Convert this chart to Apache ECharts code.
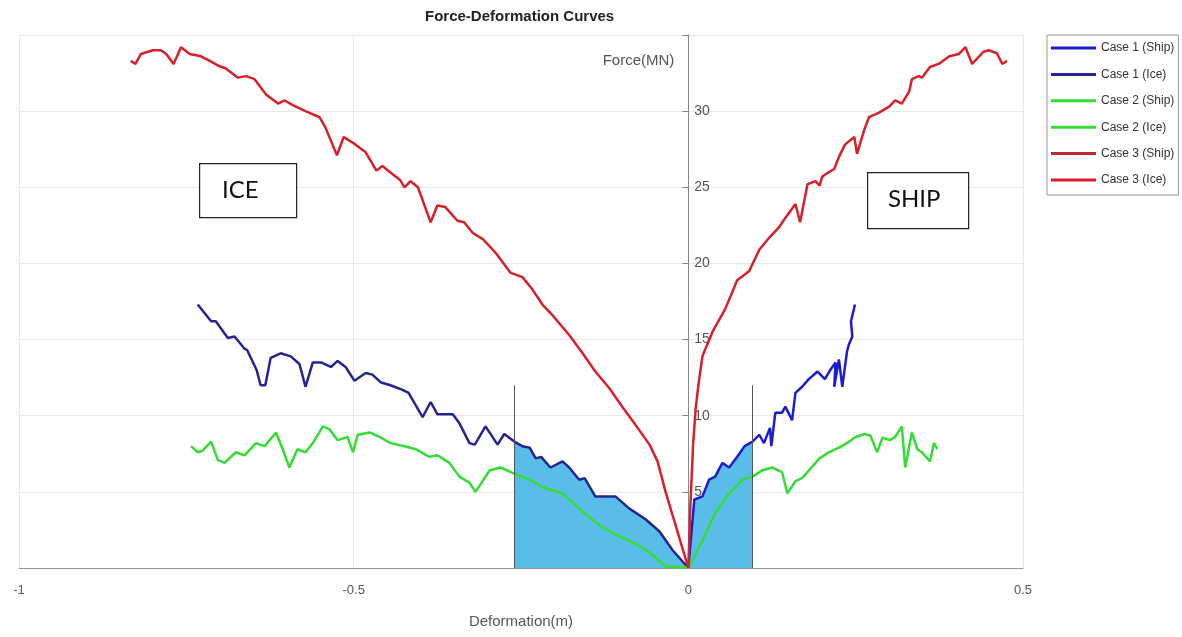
<!DOCTYPE html>
<html>
<head>
<meta charset="utf-8">
<script src="https://cdn.jsdelivr.net/npm/echarts@6/dist/echarts.min.js"></script>
<style>
  html, body { margin: 0; padding: 0; background: #fff; }
  #chart { width: 1182px; height: 637px; }
</style>
</head>
<body>
<div id="chart"></div>
<script>
// [deformation (m), force (MN)]
var case1Ship = [[0,0],[0.009,4.5],[0.021,4.7],[0.031,5.8],[0.04,6.0],[0.051,6.9],[0.061,6.6],[0.073,7.3],[0.084,8.0],[0.096,8.3],
  [0.106,8.75],[0.113,8.2],[0.122,9.2],[0.124,8.0],[0.13,10.2],[0.14,10.2],[0.145,10.6],[0.155,9.7],[0.16,11.5],[0.17,11.9],
  [0.18,12.4],[0.193,12.9],[0.204,12.4],[0.212,13.0],[0.22,13.5],[0.218,11.9],[0.225,13.7],[0.23,11.9],[0.237,14.2],[0.24,14.7],
  [0.245,15.2],[0.243,16.2],[0.249,17.3]];
var case1Ice = [[-0.733,17.3],[-0.713,16.2],[-0.706,16.2],[-0.688,15.1],[-0.678,15.2],[-0.663,14.4],[-0.659,14.3],[-0.645,13.0],
  [-0.639,12.0],[-0.632,12.0],[-0.624,13.8],[-0.609,14.1],[-0.594,13.9],[-0.581,13.4],[-0.572,11.9],[-0.561,13.5],[-0.549,13.5],
  [-0.534,13.2],[-0.524,13.6],[-0.512,13.2],[-0.499,12.3],[-0.482,12.8],[-0.472,12.7],[-0.46,12.2],[-0.445,12.0],[-0.427,11.7],
  [-0.418,11.5],[-0.397,9.9],[-0.385,10.9],[-0.375,10.1],[-0.352,10.1],[-0.342,9.5],[-0.327,8.2],[-0.319,8.1],[-0.303,9.3],
  [-0.285,8.1],[-0.275,8.8],[-0.26,8.3],[-0.248,8.0],[-0.237,7.9],[-0.228,7.2],[-0.22,7.3],[-0.206,6.6],[-0.188,7.0],[-0.178,6.6],
  [-0.163,5.8],[-0.155,5.9],[-0.139,4.7],[-0.109,4.7],[-0.088,3.9],[-0.064,3.2],[-0.043,2.4],[-0.024,1.2],[0,0]];
var case2Ship = [[0,0],[0.021,1.8],[0.04,3.6],[0.061,4.9],[0.081,5.8],[0.096,6.0],[0.11,6.4],[0.125,6.6],[0.14,6.3],[0.148,4.9],
  [0.16,5.7],[0.17,5.9],[0.18,6.4],[0.196,7.2],[0.21,7.6],[0.225,7.9],[0.237,8.2],[0.25,8.6],[0.263,8.8],[0.272,8.7],[0.282,7.6],
  [0.29,8.55],[0.301,8.4],[0.309,8.6],[0.319,9.3],[0.324,6.6],[0.334,8.9],[0.342,7.8],[0.349,7.6],[0.361,7.0],[0.367,8.2],[0.372,7.8]];
var case2Ice = [[-0.743,8.0],[-0.733,7.6],[-0.726,7.7],[-0.713,8.3],[-0.703,7.1],[-0.693,6.9],[-0.676,7.6],[-0.663,7.4],[-0.646,8.2],
  [-0.633,8.0],[-0.616,8.9],[-0.606,7.8],[-0.596,6.6],[-0.584,7.8],[-0.572,7.6],[-0.561,8.2],[-0.546,9.3],[-0.536,9.1],[-0.524,8.4],
  [-0.509,8.6],[-0.501,7.6],[-0.494,8.75],[-0.476,8.9],[-0.461,8.6],[-0.445,8.2],[-0.424,8.0],[-0.407,7.8],[-0.387,7.3],[-0.375,7.4],
  [-0.357,6.9],[-0.342,6.0],[-0.327,5.6],[-0.318,5.0],[-0.297,6.4],[-0.281,6.6],[-0.26,6.2],[-0.237,5.8],[-0.218,5.3],[-0.188,4.9],
  [-0.158,3.7],[-0.133,2.8],[-0.109,2.2],[-0.079,1.6],[-0.057,1.0],[-0.034,0.1],[-0.01,0.05],[0,0]];
var case3Ship = [[0,0],[0.003,4],[0.007,8],[0.011,10.5],[0.015,12.0],[0.021,13.9],[0.036,15.5],[0.055,17.0],[0.073,18.9],[0.091,19.5],
  [0.106,20.9],[0.121,21.7],[0.136,22.4],[0.142,22.8],[0.16,23.9],[0.167,22.7],[0.178,25.2],[0.19,25.4],[0.196,25.1],[0.2,25.7],
  [0.21,26.0],[0.218,26.2],[0.225,27.0],[0.234,27.8],[0.248,28.3],[0.252,27.2],[0.263,28.8],[0.27,29.6],[0.285,29.9],[0.3,30.3],
  [0.309,30.7],[0.319,30.5],[0.33,31.3],[0.334,32.1],[0.344,32.3],[0.349,32.2],[0.361,32.9],[0.374,33.1],[0.39,33.6],[0.404,33.75],
  [0.414,34.2],[0.424,33.1],[0.441,33.9],[0.449,34.0],[0.461,33.8],[0.469,33.1],[0.476,33.3]];
var case3Ice = [[-0.833,33.3],[-0.826,33.1],[-0.818,33.75],[-0.8,34.0],[-0.788,34.0],[-0.78,33.75],[-0.769,33.1],[-0.758,34.2],
  [-0.745,33.75],[-0.728,33.6],[-0.715,33.3],[-0.703,33.0],[-0.691,32.8],[-0.673,32.2],[-0.661,32.3],[-0.648,32.1],[-0.631,31.1],
  [-0.613,30.5],[-0.603,30.7],[-0.591,30.4],[-0.572,30.0],[-0.551,29.6],[-0.542,28.9],[-0.525,27.1],[-0.515,28.3],[-0.497,27.8],
  [-0.482,27.3],[-0.466,26.1],[-0.457,26.4],[-0.446,26.0],[-0.431,25.5],[-0.424,25.0],[-0.415,25.4],[-0.404,25.0],[-0.385,22.7],
  [-0.375,23.8],[-0.363,23.7],[-0.345,22.8],[-0.335,22.7],[-0.322,22.0],[-0.307,21.6],[-0.288,20.7],[-0.266,19.4],[-0.248,19.1],
  [-0.233,18.3],[-0.218,17.3],[-0.203,16.6],[-0.178,15.3],[-0.158,14.1],[-0.139,12.9],[-0.118,11.8],[-0.099,10.6],[-0.079,9.4],
  [-0.058,8.1],[-0.046,7.0],[-0.034,5.0],[-0.019,2.8],[0,0]];

var seriesNames = ['Case 1 (Ship)', 'Case 1 (Ice)', 'Case 2 (Ship)', 'Case 2 (Ice)', 'Case 3 (Ship)', 'Case 3 (Ice)'];
var seriesColors = ['#1c1cd0', '#25258f', '#33dd33', '#33dd33', '#c42a2a', '#e0182e'];
var seriesData = [case1Ship, case1Ice, case2Ship, case2Ice, case3Ship, case3Ice];

// shaded region under Case 1 between these deformations
var shadeFrom = -0.26;
var shadeTo = 0.096;
var shadeLineTop = 12;

var narrow = "'Liberation Sans Narrow', 'Liberation Sans', Arial, sans-serif";

var gridLeft = 19, gridRight = 159, chartW = 1182;
// the force axis sits at deformation 0 (2/3 of the way across)
var yAxisOffset = -(chartW - gridLeft - gridRight) * 2 / 3;

var shadeData = case1Ice.filter(p => p[0] >= shadeFrom).concat(case1Ship.filter(p => p[0] <= shadeTo));

var series = [{
    name: 'shade',
    type: 'line',
    data: shadeData,
    showSymbol: false,
    silent: true,
    lineStyle: { width: 0 },
    areaStyle: { color: '#5abde9', opacity: 1 },
    z: 1,
    markLine: {
        silent: true,
        symbol: 'none',
        label: { show: false },
        lineStyle: { color: '#555', width: 1, type: 'solid' },
        data: [
            [{ coord: [shadeFrom, 0] }, { coord: [shadeFrom, shadeLineTop] }],
            [{ coord: [shadeTo, 0] }, { coord: [shadeTo, shadeLineTop] }]
        ]
    }
}];
seriesNames.forEach(function (name, i) {
    series.push({
        name: name,
        type: 'line',
        data: seriesData[i],
        showSymbol: false,
        color: seriesColors[i],
        lineStyle: { width: 2.5, color: i >= 4 ? '#d8202a' : seriesColors[i] },
        z: 3
    });
});

var chart = echarts.init(document.getElementById('chart'));
chart.setOption({
    animation: false,
    backgroundColor: '#fff',
    title: {
        text: 'Force-Deformation Curves',
        left: 420,
        top: 4,
        textStyle: { fontFamily: narrow, fontSize: 15, fontWeight: 'bold', color: '#222' }
    },
    legend: {
        data: seriesNames,
        orient: 'vertical',
        left: 1047,
        top: 35,
        icon: 'rect',
        itemWidth: 45,
        itemHeight: 3,
        itemGap: 14.4,
        padding: [7, 4, 9, 4],
        borderColor: '#999',
        borderWidth: 1,
        backgroundColor: '#fff',
        textStyle: { fontFamily: narrow, fontSize: 12, color: '#333' }
    },
    grid: { left: gridLeft, right: gridRight, top: 35, bottom: 69 },
    xAxis: {
        type: 'value',
        min: -1,
        max: 0.5,
        interval: 0.5,
        name: 'Deformation(m)',
        nameLocation: 'middle',
        nameGap: 46,
        nameTextStyle: { fontFamily: narrow, fontSize: 15, color: '#555' },
        axisLine: { onZero: false, lineStyle: { color: '#999' } },
        axisTick: { show: false },
        axisLabel: { fontFamily: narrow, fontSize: 13, color: '#555', margin: 16 },
        splitLine: { lineStyle: { color: '#e8e8e8' } }
    },
    yAxis: {
        type: 'value',
        position: 'left',
        offset: yAxisOffset,
        min: 0,
        max: 35,
        interval: 5,
        name: 'Force(MN)',
        nameLocation: 'end',
        nameGap: -33,
        nameTextStyle: { fontFamily: narrow, fontSize: 15, color: '#555', align: 'right', padding: [0, 14, 0, 0] },
        axisLine: { show: true, onZero: false, lineStyle: { color: '#888' } },
        axisTick: { show: true, inside: false, length: 6, lineStyle: { color: '#888' } },
        axisLabel: {
            inside: true,
            margin: 6,
            fontFamily: narrow,
            fontSize: 14,
            color: '#555',
            formatter: function (v) { return (v === 0 || v === 35) ? '' : v; }
        },
        splitLine: { lineStyle: { color: '#e8e8e8' } }
    },
    graphic: [
        { type: 'rect', left: 199, top: 163, shape: { width: 97, height: 54 }, style: { fill: '#fff', stroke: '#222', lineWidth: 1.2 }, z: 10 },
        { type: 'text', left: 222, top: 178, style: { text: 'ICE', font: '24px Lato, sans-serif', fill: '#111' }, z: 11 },
        { type: 'rect', left: 867, top: 172, shape: { width: 101, height: 56 }, style: { fill: '#fff', stroke: '#222', lineWidth: 1.2 }, z: 10 },
        { type: 'text', left: 888, top: 187, style: { text: 'SHIP', font: '24px Lato, sans-serif', fill: '#111' }, z: 11 }
    ],
    series: series
});
</script>
</body>
</html>
